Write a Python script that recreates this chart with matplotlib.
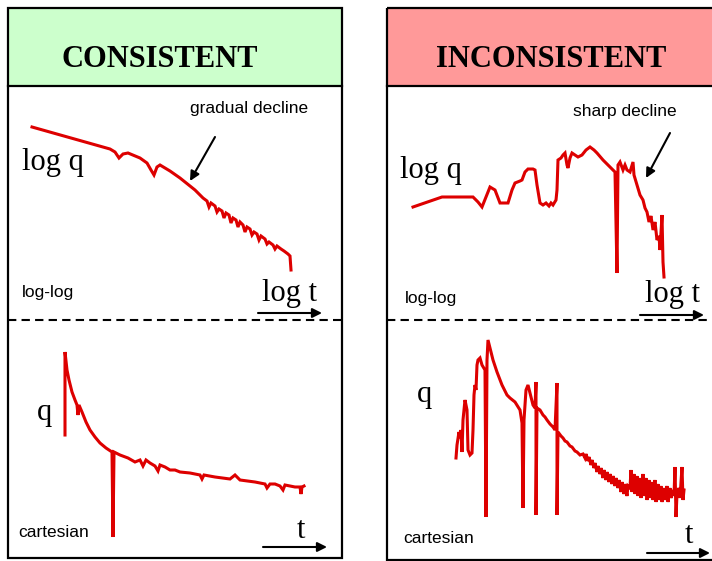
import matplotlib
matplotlib.use("Agg")
import matplotlib.pyplot as plt
from matplotlib.patches import Rectangle

# ---------------- data (arbitrary units, schematic curves) ----------------
# Consistent, log-log
cons_loglog_t = [24, 102, 107, 111, 115, 120, 132, 139, 143, 146, 149, 152, 162, 172, 187, 195, 199, 201,
                 203, 207, 209, 211, 214, 216, 218, 221, 223, 225, 228, 230, 232, 235, 237, 239, 242, 244,
                 246, 249, 251, 253, 257, 259, 261, 265, 267, 269, 273, 276, 280, 282, 283]
cons_loglog_q = [193, 171, 168, 162, 166, 167, 162, 157, 150, 145, 153, 155, 149, 142, 130, 122, 119, 113,
                 117, 114, 108, 111, 109, 102, 107, 105, 97, 102, 100, 93, 98, 95, 88, 93, 91, 85,
                 88, 86, 80, 84, 81, 76, 78, 75, 71, 74, 71, 69, 66, 64, 50]

# Inconsistent, log-log
inc_loglog_t = [26, 55, 86, 91, 95, 99, 103, 108, 113, 121, 125, 128, 133, 135, 138, 141, 146, 148, 150, 153,
                156, 159, 162, 164, 166, 169, 170, 171, 174, 176, 178, 180, 181, 183, 185, 188, 191, 195,
                199, 203, 207, 210, 216, 223, 228, 230, 231, 233, 236, 238, 240, 243, 246, 247, 250, 253,
                256, 258, 260, 262, 264, 266, 268, 270, 272, 273, 275, 276, 277]
inc_loglog_q = [113, 123, 123, 118, 113, 123, 133, 130, 117, 117, 130, 137, 139, 140, 148, 151, 151, 150, 135, 117,
                115, 117, 114, 117, 115, 120, 130, 160, 162, 165, 167, 155, 152, 162, 167, 165, 163, 165,
                170, 173, 170, 167, 160, 153, 148, 47, 155, 158, 150, 155, 150, 148, 158, 145, 135, 125,
                120, 112, 108, 98, 104, 90, 98, 80, 84, 70, 105, 58, 43]

# Consistent, cartesian
cons_cart_t = [57, 57, 59, 61, 64, 67, 69, 70, 71, 74, 78, 82, 87, 92, 98, 104, 105, 106, 112, 120, 127, 132,
               135, 138, 142, 147, 150, 152, 157, 162, 167, 172, 182, 192, 194, 196, 207, 222, 227, 232, 247,
               257, 259, 262, 267, 272, 275, 277, 287, 292, 293, 294, 296]
cons_cart_q = [123, 206, 188, 178, 166, 158, 153, 143, 153, 146, 136, 128, 121, 115, 110, 106, 21, 106, 103,
               100, 96, 98, 92, 98, 95, 92, 87, 93, 91, 88, 88, 86, 85, 83, 79, 83, 81, 79, 83, 78, 76,
               74, 70, 74, 74, 72, 68, 73, 71, 71, 64, 71, 72]

# Inconsistent, cartesian
inc_cart_t = [69, 70, 72, 73, 74, 75, 76, 78, 80, 81, 83, 85, 86, 87, 88, 89, 90, 91, 93, 95, 98, 99, 100, 101,
              103, 106, 110, 115, 120, 123, 128, 133, 135, 136, 137, 139, 141, 143, 146, 148, 149, 149, 150,
              153, 156, 158, 160, 163, 166, 168, 170, 170, 171, 174, 176, 178, 180, 183, 185, 188, 190, 193,
              196, 198, 199, 201, 202, 204, 205, 207, 208, 210, 211, 213, 214, 216, 217, 219, 220, 222, 223,
              225, 226, 228, 229, 231, 232, 234, 235, 237, 238, 240, 241, 243, 244, 245, 247, 248, 250, 251,
              253, 254, 256, 257, 259, 260, 262, 263, 265, 266, 268, 269, 271, 272, 274, 275, 277, 278, 280,
              281, 283, 284, 286, 287, 288, 289, 290, 292, 293, 295, 296, 297]
inc_cart_q = [100, 113, 126, 120, 128, 106, 138, 158, 148, 108, 103, 105, 128, 163, 173, 168, 193, 198, 200, 193,
              188, 41, 198, 218, 210, 198, 186, 173, 163, 160, 156, 148, 135, 50, 138, 168, 173, 165, 153, 150,
              176, 43, 150, 148, 143, 141, 138, 134, 131, 128, 175, 43, 126, 122, 120, 117, 116, 112, 111, 107,
              106, 103, 104, 100, 104, 97, 101, 93, 98, 90, 95, 86, 92, 84, 90, 80, 88, 78, 86, 76, 84,
              74, 82, 72, 80, 70, 78, 66, 76, 64, 74, 62, 72, 70, 88, 66, 84, 64, 82, 62,
              80, 60, 84, 62, 80, 58, 78, 60, 76, 58, 78, 56, 74, 58, 72, 56, 70, 58, 72,
              56, 70, 60, 68, 62, 91, 41, 64, 70, 60, 91, 58, 68]

titles = ["CONSISTENT", "INCONSISTENT"]
header_colors = ["#ccffcc", "#ff9999"]
annotations = ["gradual decline", "sharp decline"]

RED = "#dd0000"
W, H = 712, 561

fig = plt.figure(figsize=(W / 100, H / 100), dpi=100)
ov = fig.add_axes([0, 0, 1, 1])
ov.set_xlim(0, W)
ov.set_ylim(H, 0)
ov.axis("off")

serif = "Liberation Serif"
sans = "Liberation Sans"

# boxes
boxes = [(8, 342, 558), (387, 716, 560)]
title_x = [160, 551]
for (x0, x1, yb), title, hc, tx in zip(boxes, titles, header_colors, title_x):
    ov.add_patch(Rectangle((x0, 8), x1 - x0, 78, facecolor=hc, edgecolor="none", zorder=0))
    ov.add_patch(Rectangle((x0, 8), x1 - x0, yb - 8, facecolor="none", edgecolor="black", lw=1.6, zorder=3))
    ov.plot([x0, x1], [86, 86], color="black", lw=1.6, zorder=3)
    ov.plot([x0, x1], [320, 320], color="black", lw=1.5, ls=(0, (4, 2.5)), zorder=3)
    ov.text(tx, 67, title, fontsize=22, fontweight="bold",
            family=serif, ha="center", va="baseline", zorder=4)

# panel labels
ov.text(22, 170, "log q", fontsize=22, family=serif, va="baseline")
ov.text(400, 178, "log q", fontsize=22, family=serif, va="baseline")
ov.text(37, 420, "q", fontsize=22, family=serif, va="baseline")
ov.text(417, 402, "q", fontsize=22, family=serif, va="baseline")
ov.text(262, 301, "log t", fontsize=22, family=serif, va="baseline")
ov.text(645, 302, "log t", fontsize=22, family=serif, va="baseline")
ov.text(297, 538, "t", fontsize=22, family=serif, va="baseline")
ov.text(685, 543, "t", fontsize=22, family=serif, va="baseline")

ov.text(22, 297, "log-log", fontsize=12.5, family=sans, va="baseline")
ov.text(405, 303, "log-log", fontsize=12.5, family=sans, va="baseline")
ov.text(18, 537, "cartesian", fontsize=12.5, family=sans, va="baseline")
ov.text(403, 543, "cartesian", fontsize=12.5, family=sans, va="baseline")
ov.text(190, 113, annotations[0], fontsize=12.5, family=sans, va="baseline")
ov.text(573, 116, annotations[1], fontsize=12.5, family=sans, va="baseline")

arrow = dict(arrowstyle="-|>", color="black", lw=1.5, mutation_scale=14, shrinkA=0, shrinkB=0)
for (xs, ys), (xe, ye) in [((215, 137), (190, 181)), ((670, 133), (646, 178)),
                           ((258, 313), (322, 313)), ((640, 315), (704, 315)),
                           ((263, 547), (327, 547)), ((647, 553), (710, 553))]:
    ov.annotate("", xy=(xe, ye), xytext=(xs, ys), arrowprops=arrow)

# curve panels
panels = [
    ((8, 86, 334, 234), cons_loglog_t, cons_loglog_q),
    ((387, 86, 325, 234), inc_loglog_t, inc_loglog_q),
    ((8, 320, 334, 238), cons_cart_t, cons_cart_q),
    ((387, 320, 325, 238), inc_cart_t, inc_cart_q),
]
for (px, py, pw, ph), t, q in panels:
    ax = fig.add_axes([px / W, (H - py - ph) / H, pw / W, ph / H])
    ax.set_xlim(0, pw)
    ax.set_ylim(0, ph)
    ax.axis("off")
    ax.patch.set_alpha(0)
    ax.plot(t, q, color=RED, lw=2.2, solid_joinstyle="miter")

fig.savefig("out.png", dpi=100)
